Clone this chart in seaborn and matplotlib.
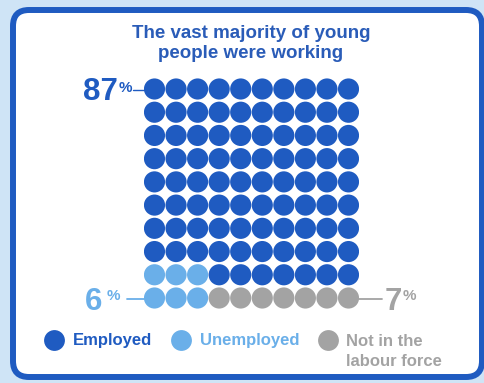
import numpy as np
import pandas as pd
import seaborn as sns
import matplotlib.pyplot as plt
from matplotlib.patches import FancyBboxPatch
from matplotlib.lines import Line2D

# ---- data ----
categories = ["Employed", "Unemployed", "Not in the labour force"]
legend_labels = ["Employed", "Unemployed", "Not in the"]
legend_extra = "labour force"
counts = [87, 6, 7]
pct_labels = ["87", "6", "7"]
title = "The vast majority of young\npeople were working"

colors = {"Employed": "#1f5bc1", "Unemployed": "#6aafe9", "Not in the labour force": "#a3a3a3"}
BG = "#cfe4f6"
FRAME = "#1f5bc1"

# build the 10x10 waffle
ncol, nrow = 10, 10
cells = []
for r in range(nrow):
    for c in range(ncol):
        if r == 9:
            cat = "Unemployed" if c < 3 else "Not in the labour force"
        elif r == 8 and c < 3:
            cat = "Unemployed"
        else:
            cat = "Employed"
        cells.append((c, r, cat))
df = pd.DataFrame(cells, columns=["col", "row", "category"])

sns.set_theme(style="white")
plt.rcParams["font.family"] = ["Liberation Sans", "DejaVu Sans"]

W, H = 485, 383
fig = plt.figure(figsize=(W / 100, H / 100), dpi=100)
fig.patch.set_facecolor(BG)

# white rounded frame
frame = FancyBboxPatch((13 / W, 1 - 377 / H), 469 / W, 367 / H,
                       boxstyle="round,pad=0,rounding_size=0.033",
                       transform=fig.transFigure, facecolor="white",
                       edgecolor=FRAME, linewidth=4.3, mutation_aspect=W / H,
                       zorder=-5)
fig.patches.append(frame)

# grid axes
cw = (348.5 - 154.5) / 9
rh = (298 - 89) / 9
left = 154.5 - cw / 2
top = 89 - rh / 2
ax = fig.add_axes([left / W, 1 - (top + 10 * rh) / H, 10 * cw / W, 10 * rh / H])
ax.set_facecolor("none")
ax.set_zorder(2)

sns.scatterplot(data=df, x="col", y="row", hue="category", palette=colors,
                hue_order=categories, s=232, linewidth=0, ax=ax, legend=False)
ax.set_xlim(-0.5, 9.5)
ax.set_ylim(9.5, -0.5)
ax.axis("off")

# percentage callouts
dark, light, grey = colors["Employed"], colors["Unemployed"], colors["Not in the labour force"]
ax.plot([-1.0, -0.5], [0.05, 0.05], color=dark, lw=1.0, clip_on=False)
ax.text(-1.72, 0.48, pct_labels[0], ha="right", va="baseline", fontsize=22.5,
        fontweight="bold", color=dark, clip_on=False)
ax.text(-1.03, 0.13, "%", ha="right", va="baseline", fontsize=11,
        fontweight="bold", color=dark, clip_on=False)

ax.plot([-1.28, -0.5], [9.05, 9.05], color=light, lw=1.3, clip_on=False)
ax.text(-2.43, 9.5, pct_labels[1], ha="right", va="baseline", fontsize=22.5,
        fontweight="bold", color=light, clip_on=False)
ax.text(-1.6, 9.08, "%", ha="right", va="baseline", fontsize=11,
        fontweight="bold", color=light, clip_on=False)

ax.plot([9.5, 10.55], [9.05, 9.05], color=grey, lw=1.3, clip_on=False)
ax.text(10.69, 9.5, pct_labels[2], ha="left", va="baseline", fontsize=22.5,
        fontweight="bold", color=grey, clip_on=False)
ax.text(11.53, 9.08, "%", ha="left", va="baseline", fontsize=11,
        fontweight="bold", color=grey, clip_on=False)

# title
fig.text(251 / W, 1 - 43.5 / H, title, ha="center", va="center", fontsize=13.5,
         fontweight="bold", color="#2a5cb8", linespacing=1.25)

# legend
handles = [Line2D([], [], marker="o", linestyle="none", markersize=15,
                  markerfacecolor=colors[c], markeredgewidth=0) for c in categories]
leg = fig.legend(handles, legend_labels, loc="center left",
                 bbox_to_anchor=(44 / W, 1 - 341 / H), ncol=3, frameon=False,
                 handlelength=1.26, handletextpad=0.48, columnspacing=1.1,
                 borderpad=0, borderaxespad=0,
                 prop={"weight": "bold", "size": 12})
for txt, c in zip(leg.get_texts(), categories):
    txt.set_color(colors[c])

fig.canvas.draw()
bb = leg.get_texts()[2].get_window_extent()
fig.text(bb.x0 / W, (bb.y0 - 21) / H, legend_extra, ha="left", va="bottom",
         fontsize=12, fontweight="bold", color=grey)

fig.savefig("out.png", dpi=100, facecolor=BG)
